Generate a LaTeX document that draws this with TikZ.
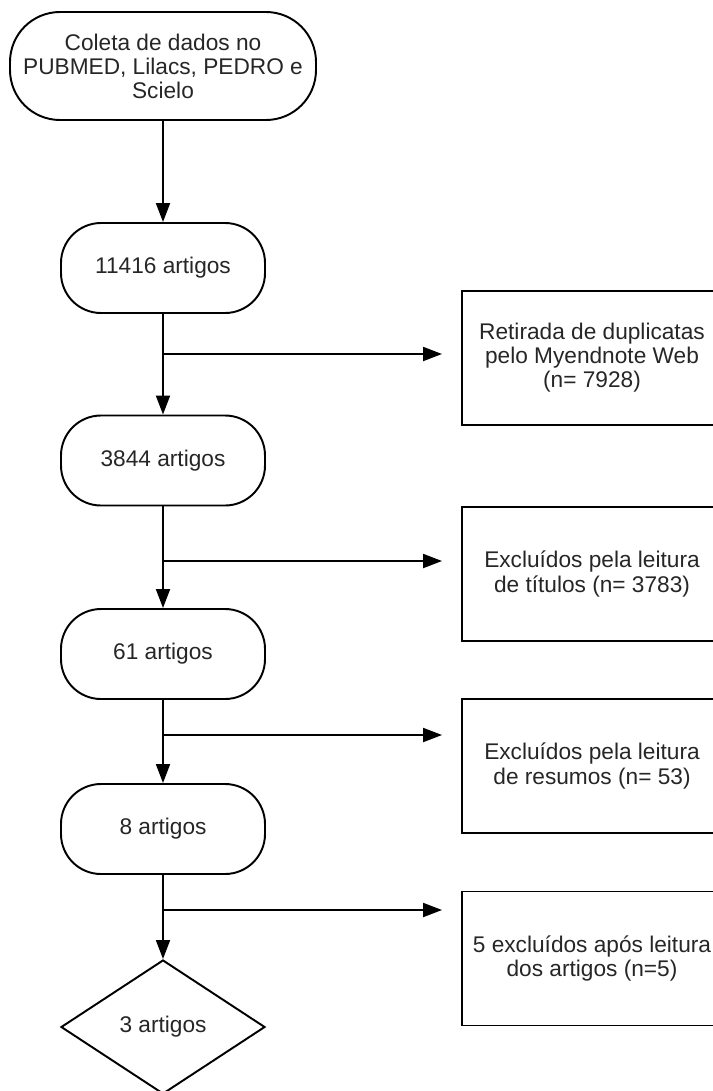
\documentclass[tikz,border=0pt]{standalone}
\usepackage{fontspec}
\setmainfont{Liberation Sans}
\usepackage{tikz}
\usetikzlibrary{shapes.geometric, arrows.meta, positioning, calc}

\begin{document}
\begin{tikzpicture}[
  font=\fontsize{12.9}{13.7}\selectfont,
  term/.style={draw, line width=1.1pt, rounded corners=0.8cm, minimum width=4.08cm, minimum height=1.8cm, align=center, text=black!85},
  exclbox/.style={draw, line width=1.1pt, minimum width=5.2cm, minimum height=2.68cm, align=center, text=black!85},
  flow/.style={-{Triangle[length=0.38cm, width=0.28cm]}, line width=1.1pt},
]
  \useasboundingbox (0,0) rectangle (14.26,-21.82);
  \clip (0,0) rectangle (14.26,-21.82);

  % main column
  \node[term, rounded corners=1cm, minimum width=6.12cm, minimum height=2.16cm] (coleta) at (3.26, -1.32)
    {Coleta de dados no\\PUBMED, Lilacs, PEDRO e\\Scielo};
  \node[term] (a11416) at (3.26, -5.36) {11416 artigos};
  \node[term] (a3844) at (3.26, -9.21) {3844 artigos};
  \node[term] (a61) at (3.26, -13.08) {61 artigos};
  \node[term] (a8) at (3.26, -16.58) {8 artigos};
  \node[diamond, draw, line width=1.1pt, inner sep=0pt, minimum width=4.08cm, minimum height=2.68cm, text=black!85] (final) at (3.26, -20.54) {3 artigos};

  % exclusions
  \node[exclbox] (dup) at (11.84, -7.16) {Retirada de duplicatas\\pelo Myendnote Web\\(n= 7928)};
  \node[exclbox] (tit) at (11.84, -11.48) {Exclu\'idos pela leitura\\de t\'itulos (n= 3783)};
  \node[exclbox] (res) at (11.84, -15.32) {Exclu\'idos pela leitura\\de resumos (n= 53)};
  \node[exclbox] (art) at (11.84, -19.17) {5 exclu\'idos ap\'os leitura\\dos artigos (n=5)};

  \coordinate (b1) at (3.26, -7.08);
  \coordinate (b2) at (3.26, -11.22);
  \coordinate (b3) at (3.26, -14.70);
  \coordinate (b4) at (3.26, -18.20);

  \draw[flow] (coleta) -- (a11416);
  \draw[flow] (a11416) -- (a3844);
  \draw[flow] (a3844) -- (a61);
  \draw[flow] (a61) -- (a8);
  \draw[flow] (a8) -- (final);

  \draw[flow, shorten >=0.38cm] (b1) -- (b1 -| dup.west);
  \draw[flow, shorten >=0.38cm] (b2) -- (b2 -| tit.west);
  \draw[flow, shorten >=0.38cm] (b3) -- (b3 -| res.west);
  \draw[flow, shorten >=0.38cm] (b4) -- (b4 -| art.west);
\end{tikzpicture}
\end{document}
